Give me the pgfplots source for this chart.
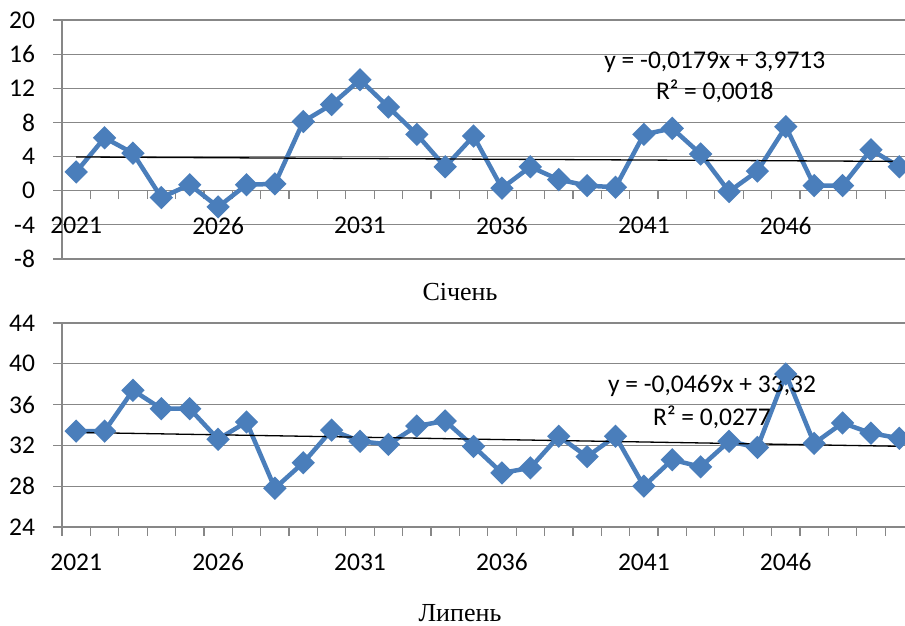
\documentclass[border=0pt]{standalone}
\usepackage{fontspec}
\setmainfont{Liberation Serif}
\newfontfamily\calib{Carlito}
\usepackage{pgfplots}
\pgfplotsset{compat=1.18}
\definecolor{serie}{HTML}{4A7EBB}
\definecolor{gridgray}{HTML}{878787}

\pgfplotsset{panel/.style={
  width=843pt, scale only axis,
  xmin=0.5, xmax=30.2,
  xtick={0.5,1.5,...,29.5}, xticklabels={},
  extra x ticks={1,6,11,16,21,26},
  extra x tick labels={2021,2026,2031,2036,2041,2046},
  extra x tick style={major tick length=0pt},
  tick align=outside, major tick length=8.5pt,
  ymajorgrids, grid style={gridgray, line width=1.2pt},
  axis line style={gridgray, line width=1.2pt, -},
  tick style={gridgray, line width=1.2pt},
  tick label style={font=\calib\fontsize{25.5}{27}\selectfont, text=black},
  xticklabel style={yshift=-23pt},
  yticklabel style={xshift=-15pt},
  /pgf/number format/assume math mode=true,
  clip=false,
  hide obscured x ticks=false, hide obscured y ticks=false,
  axis y line*=left,
}}
\tikzset{
  serstyle/.style={serie, line width=4.5pt, mark=square*, mark size=6pt,
    mark options={rotate=45, solid, fill=serie}},
  trend/.style={black, line width=1.3pt, no marks},
  eq/.style={font=\calib\fontsize{25.5}{27}\selectfont},
}

\begin{document}
\begin{tikzpicture}
\useasboundingbox (0,0) rectangle (905pt,625pt);

% Січень
\begin{axis}[panel, at={(62pt,366pt)}, anchor=south west, height=239pt,
  ymin=-8, ymax=20, ytick={-8,-4,...,20},
  axis x line*=middle]
\addplot[serstyle] coordinates {
 (1,2.2) (2,6.2) (3,4.4) (4,-0.8) (5,0.7) (6,-1.9) (7,0.7) (8,0.8) (9,8.1) (10,10.1)
 (11,13.0) (12,9.8) (13,6.6) (14,2.8) (15,6.4) (16,0.3) (17,2.8) (18,1.3) (19,0.6) (20,0.4)
 (21,6.6) (22,7.3) (23,4.3) (24,-0.1) (25,2.3) (26,7.5) (27,0.6) (28,0.6) (29,4.8) (30,2.8)
};
\addplot[trend] coordinates {(1,3.9534) (30,3.4343)};
\node[eq] at (axis cs:23.5,15.1) {y = -0,0179x + 3,9713};
\node[eq] at (axis cs:23.5,11.6) {R² = 0,0018};
\end{axis}

% Липень
\begin{axis}[panel, at={(62pt,98pt)}, anchor=south west, height=204pt,
  ymin=24, ymax=44, ytick={24,28,...,44},
  axis x line*=bottom]
\addplot[serstyle] coordinates {
 (1,33.4) (2,33.4) (3,37.4) (4,35.6) (5,35.6) (6,32.6) (7,34.3) (8,27.8) (9,30.3) (10,33.5)
 (11,32.4) (12,32.1) (13,33.9) (14,34.4) (15,31.9) (16,29.3) (17,29.8) (18,32.9) (19,30.9) (20,32.9)
 (21,28.0) (22,30.6) (23,29.9) (24,32.4) (25,31.8) (26,39.0) (27,32.2) (28,34.2) (29,33.2) (30,32.7)
};
\addplot[trend] coordinates {(1,33.2731) (30,31.913)};
\node[eq] at (axis cs:23.4,37.8) {y = -0,0469x + 33,32};
\node[eq] at (axis cs:23.4,34.8) {R² = 0,0277};
\end{axis}

\node[anchor=base, font=\fontsize{26}{28}\selectfont] at (460pt,324.3pt) {Січень};
\node[anchor=base, font=\fontsize{26}{28}\selectfont] at (460pt,4pt) {Липень};
\end{tikzpicture}
\end{document}
